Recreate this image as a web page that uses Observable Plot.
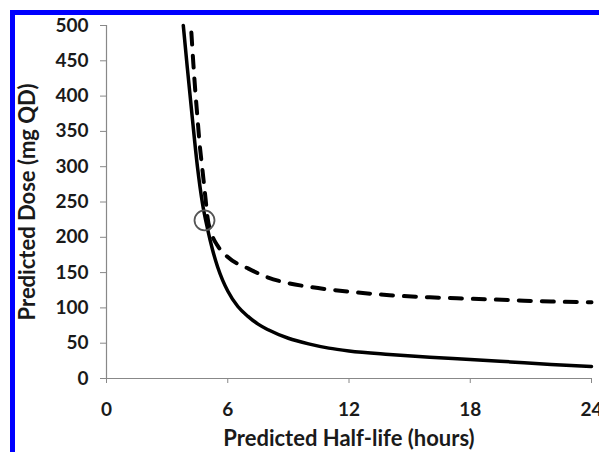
<!DOCTYPE html>
<html>
<head>
<meta charset="utf-8">
<script src="https://cdn.jsdelivr.net/npm/d3@7"></script>
<script src="https://cdn.jsdelivr.net/npm/@observablehq/plot@0.6"></script>
<style>
  html, body { margin: 0; padding: 0; background: #fff; }
  #wrap { position: relative; width: 599px; height: 452px; overflow: hidden; }
  #frame { position: absolute; left: 10px; top: 10px; width: 600px; height: 460px;
           border-top: 5px solid #0000ff; border-left: 5px solid #0000ff; box-sizing: border-box; }
  #chart { position: absolute; left: 0; top: 0; }
  #chart svg text { font-weight: bold; }
</style>
</head>
<body>
<div id="wrap"><div id="frame"></div><div id="chart"></div></div>
<script>
// Solid curve
const solidHalfLife = [3.8, 4.0, 4.25, 4.5, 4.75, 5.0, 5.25, 5.5, 5.75, 6, 6.5, 7, 7.5, 8, 9, 10, 11, 12, 14, 16, 18, 20, 22, 24];
const solidDose     = [500, 440, 368, 300, 248, 212, 182, 158, 139, 124, 102, 88, 77, 69, 57, 49, 43, 39, 34, 30, 27, 23.5, 20, 17];
// Dashed curve
const dashedHalfLife = [4.2, 4.3, 4.4, 4.5, 4.6, 4.75, 4.9, 5.0, 5.2, 5.5, 6, 7, 8, 9, 10, 12, 14, 16, 18, 20, 22, 24];
const dashedDose     = [490, 445, 405, 370, 335, 295, 255, 228, 205, 188, 172, 156, 143, 135, 130, 123, 118, 115, 113, 111, 109, 108];
// Highlighted point
const markHalfLife = [4.85];
const markDose = [224];
// Ticks
const xTicks = [0, 6, 12, 18, 24];
const yTicks = [0, 50, 100, 150, 200, 250, 300, 350, 400, 450, 500];
const xLabel = "Predicted Half-life (hours)";
const yLabel = "Predicted Dose (mg QD)";

const solid = solidHalfLife.map((t, i) => ({t, d: solidDose[i]}));
const dashed = dashedHalfLife.map((t, i) => ({t, d: dashedDose[i]}));
const marker = markHalfLife.map((t, i) => ({t, d: markDose[i]}));

const chart = Plot.plot({
  width: 599,
  height: 452,
  marginLeft: 106,
  marginRight: 8,
  marginTop: 25,
  marginBottom: 74,
  style: {fontFamily: "Lato, sans-serif", fontSize: "19px", color: "#1a1a1a", background: "transparent"},
  x: {domain: [0, 24]},
  y: {domain: [0, 500]},
  marks: [
    Plot.axisY({ticks: yTicks, tickSize: 6, tickPadding: 12, stroke: "#888", label: null, fontSize: 19}),
    Plot.axisX({ticks: xTicks, tickSize: 5, tickPadding: 19, stroke: "#888", label: null, fontSize: 19}),
    Plot.ruleX([0], {stroke: "#888", strokeWidth: 1.2}),
    Plot.ruleY([0], {stroke: "#888", strokeWidth: 1.2}),
    Plot.line(dashed, {x: "t", y: "d", stroke: "#000", strokeWidth: 4, strokeDasharray: "12,11", curve: "monotone-x"}),
    Plot.line(solid, {x: "t", y: "d", stroke: "#000", strokeWidth: 3.5, curve: "monotone-x"}),
    Plot.dot(marker, {x: "t", y: "d", r: 10, stroke: "#555", strokeWidth: 1.8, fill: "none"}),
    Plot.text([xLabel], {frameAnchor: "bottom", lineAnchor: "middle", dy: 60, fontSize: 22, fill: "#1a1a1a"}),
    Plot.text([yLabel], {frameAnchor: "left", textAnchor: "middle", lineAnchor: "middle", dx: -79, rotate: -90, fontSize: 22, fill: "#1a1a1a"})
  ]
});
document.getElementById("chart").appendChild(chart);
</script>
</body>
</html>
